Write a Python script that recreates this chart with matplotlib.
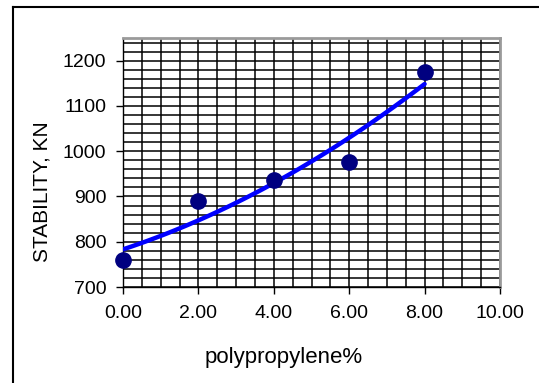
import numpy as np
import matplotlib
matplotlib.use("Agg")
import matplotlib.pyplot as plt
from matplotlib.ticker import MultipleLocator, FormatStrFormatter
from matplotlib.lines import Line2D

plt.rcParams['font.family'] = ['Liberation Sans', 'DejaVu Sans']

# data
pp_percent = [0, 2, 4, 6, 8]
stability = [760, 891, 937, 976, 1174]

# 2nd-order polynomial trendline fitted to the points (spreadsheet style)
coef = np.polyfit(pp_percent, stability, 2)
x_fit = np.linspace(0, 8, 100)
y_fit = np.polyval(coef, x_fit)

fig = plt.figure(figsize=(5.39, 3.83), dpi=100)
ax = fig.add_axes([123 / 539, 1 - 287 / 383, (500 - 123) / 539, (287 - 38) / 383])

ax.plot(x_fit, y_fit, color='#0000ff', lw=3.2, solid_capstyle='round', zorder=3)
ax.plot(pp_percent, stability, 'o', color='#000080', ms=11, zorder=4, clip_on=False)

ax.set_xlim(0, 10)
ax.set_ylim(700, 1250)
ax.xaxis.set_major_locator(MultipleLocator(2))
ax.xaxis.set_minor_locator(MultipleLocator(0.5))
ax.yaxis.set_major_locator(MultipleLocator(100))
ax.yaxis.set_minor_locator(MultipleLocator(20))
ax.xaxis.set_major_formatter(FormatStrFormatter('%.2f'))
ax.grid(which='both', color='black', lw=1.1)
ax.set_axisbelow(True)
ax.tick_params(which='major', direction='out', length=5, width=1, labelsize=14,
               color='black')
ax.tick_params(axis='y', pad=7)
ax.tick_params(axis='x', pad=8)
ax.tick_params(which='minor', length=0)

for side in ['left', 'bottom']:
    ax.spines[side].set_color('black')
    ax.spines[side].set_linewidth(1)
for side in ['top', 'right']:
    ax.spines[side].set_color('#9a9a9a')
    ax.spines[side].set_linewidth(2)

# axis titles are centred on the chart area, not the plot area
ax.set_ylabel('STABILITY, KN', fontsize=15, va='center')
ax.yaxis.set_label_coords((42 - 123) / 377, (287 - 192) / 249)
ax.set_xlabel('polypropylene%', fontsize=16, va='center')
ax.xaxis.set_label_coords((284 - 123) / 377, (287 - 358) / 249)

# outer chart border (left and top edges visible)
fig.add_artist(Line2D([13 / 539, 13 / 539], [0, 1 - 7 / 383], color='black', lw=1.5,
                      transform=fig.transFigure))
fig.add_artist(Line2D([13 / 539, 1], [1 - 7 / 383, 1 - 7 / 383], color='black', lw=1.5,
                      transform=fig.transFigure))

fig.savefig('out.png', dpi=100)
